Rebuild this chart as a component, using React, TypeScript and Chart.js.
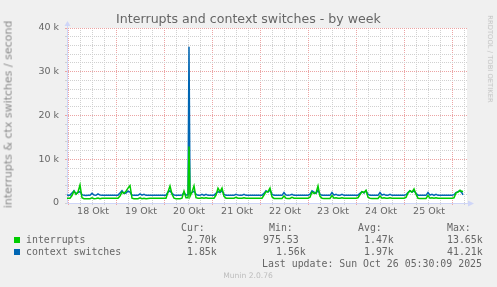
import React, { useEffect, useRef } from 'react';
import { Chart, registerables } from 'chart.js';

Chart.register(...registerables);

// Hours since 18 Okt 00:00
const hours = [
  -0.5,
  0, 1, 2, 3, 4, 5, 6, 7, 8, 9, 10, 11, 12, 13, 14, 15, 16, 17, 18, 19, 20, 21, 22, 23,
  24, 25, 26, 27, 28, 29, 30, 31, 32, 33, 34, 35, 36, 37, 38, 39, 40, 41, 42, 43, 44, 45, 46, 47,
  48, 49, 50, 51, 52, 53, 54, 55, 56, 57, 58, 59, 60, 60.5, 61, 62, 63, 64, 65, 66, 67, 68, 69, 70, 71,
  72, 73, 74, 75, 76, 77, 78, 79, 80, 81, 82, 83, 84, 85, 86, 87, 88, 89, 90, 91, 92, 93, 94, 95,
  96, 97, 98, 99, 100, 101, 102, 103, 104, 105, 106, 107, 108, 109, 110, 111, 112, 113, 114, 115, 116, 117, 118, 119,
  120, 121, 122, 123, 124, 125, 126, 127, 128, 129, 130, 131, 132, 133, 134, 135, 136, 137, 138, 139, 140, 141, 142, 143,
  144, 145, 146, 147, 148, 149, 150, 151, 152, 153, 154, 155, 156, 157, 158, 159, 160, 161, 162, 163, 164, 165, 166, 167,
  168, 169, 170, 171, 172, 173, 174, 175, 176, 177, 178, 179, 180, 181, 182, 183, 184, 185, 186, 187, 188, 189, 190, 191,
  192, 193, 194, 195, 196, 197, 197.5,
];

const interrupts = [
  1100,
  1100, 1100, 1700, 2700, 2000, 2500, 4100, 1200, 1000, 1000, 1000, 1000, 1200, 1000, 1050, 1150, 1000, 1100, 1100, 1100, 1100, 1100, 1100, 1100,
  1100, 1100, 1600, 2500, 2200, 2700, 3400, 4000, 1100, 1000, 1000, 1000, 1200, 1000, 1100, 1000, 1050, 1100, 1100, 1100, 1100, 1100, 1100, 1100,
  1100, 1100, 2500, 3900, 2000, 1100, 1000, 1000, 1000, 1100, 2700, 1200, 1200, 12900, 1500, 2500, 3900, 1200, 1100, 1100, 1200, 1100, 1200, 1100, 1100,
  1100, 1100, 1800, 3400, 2600, 3400, 1500, 1100, 1100, 1100, 1100, 1100, 1300, 1100, 1100, 1100, 1200, 1100, 1100, 1100, 1100, 1100, 1100, 1100,
  1100, 1100, 1800, 2600, 2600, 3400, 1400, 1050, 1050, 1050, 1050, 1050, 1600, 1100, 1050, 1050, 1300, 1100, 1100, 1100, 1100, 1100, 1100, 1100,
  1100, 1300, 2500, 2200, 2300, 3900, 1500, 1100, 1050, 1050, 1050, 1050, 1700, 1100, 1200, 1100, 1100, 1200, 1100, 1100, 1100, 1100, 1100, 1100,
  1100, 1200, 1900, 2600, 2400, 2900, 1300, 1100, 1050, 1050, 1050, 1050, 1600, 1100, 1200, 1100, 1100, 1200, 1100, 1100, 1100, 1100, 1100, 1100,
  1100, 1300, 2300, 2800, 2500, 3200, 2000, 1100, 1050, 1050, 1050, 1050, 1700, 1100, 1200, 1100, 1200, 1100, 1100, 1100, 1100, 1100, 1100, 1100,
  1100, 1200, 2300, 2500, 2900, 2600, 2700,
];

const contextSwitches = [
  1850,
  1800, 1800, 2300, 2800, 2100, 2400, 2600, 1900, 1750, 1700, 1750, 1750, 2200, 1800, 1750, 2100, 1800, 1750, 1750, 1750, 1750, 1750, 1750, 1800,
  1800, 1800, 2300, 2800, 2200, 2300, 2700, 2500, 1800, 1750, 1750, 1750, 2100, 1800, 2000, 1750, 1750, 1750, 1750, 1750, 1750, 1750, 1750, 1800,
  1800, 1800, 2500, 2800, 2200, 1800, 1750, 1750, 1750, 1800, 2400, 1800, 1900, 35700, 2200, 2400, 2700, 2000, 1750, 1750, 2000, 1750, 2000, 1750, 1800,
  1800, 1800, 2200, 2600, 2400, 2800, 2000, 1750, 1750, 1750, 1750, 1750, 2000, 1800, 1750, 1750, 2000, 1750, 1750, 1750, 1750, 1750, 1750, 1800,
  1800, 1800, 2200, 2800, 2500, 3000, 2000, 1750, 1750, 1750, 1750, 1750, 2400, 1800, 1750, 1800, 2000, 1750, 1750, 1750, 1750, 1750, 1750, 1800,
  1800, 2000, 2800, 2500, 2200, 2900, 2000, 1750, 1750, 1750, 1750, 1750, 2400, 1800, 2000, 1750, 1750, 2000, 1750, 1750, 1750, 1750, 1750, 1800,
  1800, 1800, 2200, 2600, 2300, 2800, 2000, 1750, 1750, 1750, 1750, 1750, 2400, 1800, 2000, 1750, 1750, 2000, 1750, 1750, 1750, 1750, 1750, 1800,
  1800, 1900, 2400, 2800, 2500, 2800, 2200, 1750, 1750, 1750, 1750, 1750, 2400, 1800, 2000, 1750, 2000, 1750, 1750, 1750, 1750, 1750, 1750, 1800,
  1800, 1900, 2400, 2600, 2800, 2300, 1850,
];

const dayTickHours = [12, 36, 60, 84, 108, 132, 156, 180];
const dayLabels = ['18 Okt', '19 Okt', '20 Okt', '21 Okt', '22 Okt', '23 Okt', '24 Okt', '25 Okt'];
const yLabelValues = [0, 10000, 20000, 30000, 40000];
const yLabels = ['0', '10 k', '20 k', '30 k', '40 k'];

const seriesNames = ['interrupts', 'context switches'];
const seriesColors = ['#00cc00', '#0066b3'];
const curValues = ['2.70k', '1.85k'];
const minValues = ['975.53', '1.56k'];
const avgValues = ['1.47k', '1.97k'];
const maxValues = ['13.65k', '41.21k'];

const titleText = 'Interrupts and context switches - by week';
const yTitleText = 'interrupts & ctx switches / second';
const lastUpdateText = 'Last update: Sun Oct 26 05:30:09 2025';
const watermarkText = 'RRDTOOL / TOBI OETIKER';
const footerText = 'Munin 2.0.76';

const GRID = '#d0d0d0';
const MGRID = '#eca4a4';
const AXIS = '#CFD6F8';
const FONT = '#666666';

const canvasBg = {
  id: 'canvasBg',
  beforeDraw(chart: any) {
    const { ctx, chartArea: a } = chart;
    ctx.save();
    ctx.fillStyle = '#ffffff';
    ctx.fillRect(a.left, a.top, a.right - a.left, a.bottom - a.top);
    ctx.restore();
  },
};

const arrows = {
  id: 'arrows',
  afterDraw(chart: any) {
    const { ctx, chartArea: a } = chart;
    ctx.save();
    ctx.fillStyle = AXIS;
    ctx.strokeStyle = AXIS;
    ctx.lineWidth = 1;
    const lx = Math.round(a.left) + 0.5;
    ctx.beginPath();
    ctx.moveTo(lx, a.top);
    ctx.lineTo(lx, a.top - 3);
    ctx.stroke();
    ctx.beginPath();
    ctx.moveTo(lx - 3, a.top - 2);
    ctx.lineTo(lx + 3, a.top - 2);
    ctx.lineTo(lx, a.top - 7);
    ctx.closePath();
    ctx.fill();
    const by = Math.round(a.bottom) + 0.5;
    ctx.beginPath();
    ctx.moveTo(a.right, by);
    ctx.lineTo(a.right + 3, by);
    ctx.stroke();
    ctx.beginPath();
    ctx.moveTo(a.right + 1, by - 3);
    ctx.lineTo(a.right + 1, by + 3);
    ctx.lineTo(a.right + 7, by);
    ctx.closePath();
    ctx.fill();
    ctx.restore();
  },
};

function Txt(props: {
  x: number; baseline: number; size: number; family: string; color: string;
  children: React.ReactNode; align?: 'left' | 'center'; width?: number;
}) {
  const { x, baseline, size, family, color, children, align = 'left', width } = props;
  return (
    <div
      style={{
        position: 'absolute',
        left: x,
        top: baseline - 0.928 * size,
        width: width,
        fontSize: size,
        lineHeight: 1.164,
        fontFamily: family,
        color,
        whiteSpace: 'pre',
        textAlign: align,
      }}
    >
      {children}
    </div>
  );
}

export default function App() {
  const ref = useRef<HTMLCanvasElement>(null);

  useEffect(() => {
    const canvas = ref.current!;
    const chart = new Chart(canvas, {
      type: 'line',
      data: {
        datasets: [
          {
            label: seriesNames[0],
            data: hours.map((h, i) => ({ x: h, y: interrupts[i] })),
            borderColor: seriesColors[0],
            backgroundColor: seriesColors[0],
            borderWidth: 1.5,
            pointRadius: 0,
            tension: 0,
            order: 1,
          },
          {
            label: seriesNames[1],
            data: hours.map((h, i) => ({ x: h, y: contextSwitches[i] })),
            borderColor: seriesColors[1],
            backgroundColor: seriesColors[1],
            borderWidth: 1.5,
            pointRadius: 0,
            tension: 0,
            order: 2,
          },
        ],
      },
      options: {
        animation: false,
        responsive: false,
        devicePixelRatio: 1,
        layout: { padding: { left: 0, top: 28, right: 30, bottom: 64 } },
        plugins: { legend: { display: false }, tooltip: { enabled: false }, title: { display: false } },
        scales: {
          x: {
            type: 'linear',
            min: -0.5,
            max: 199.5,
            afterBuildTicks: (scale: any) => {
              const t = [];
              for (let v = 0; v <= 198; v += 6) t.push({ value: v });
              scale.ticks = t;
            },
            afterFit: (scale: any) => { scale.height = 20; },
            ticks: {
              autoSkip: false,
              maxRotation: 0,
              minRotation: 0,
              padding: 1,
              labelOffset: 1,
              color: FONT,
              font: { family: 'DejaVu Sans', size: 9.5 },
              callback: (value: any) => {
                const i = dayTickHours.indexOf(Number(value));
                return i >= 0 ? dayLabels[i] : '';
              },
            },
            grid: {
              color: (c: any) => (c.tick && c.tick.value % 24 === 0 ? MGRID : GRID),
              tickColor: (c: any) => (c.tick && c.tick.value % 24 === 0 ? MGRID : GRID),
              lineWidth: 1,
              tickLength: 2,
              drawTicks: true,
            },
            border: { display: true, color: AXIS, width: 1, dash: [1, 1] },
          },
          y: {
            type: 'linear',
            min: 0,
            max: 40000,
            afterFit: (scale: any) => { scale.width = 67; },
            ticks: {
              stepSize: 2000,
              autoSkip: false,
              padding: 6,
              color: FONT,
              font: { family: 'DejaVu Sans', size: 9.5 },
              callback: (value: any) => {
                const i = yLabelValues.indexOf(Number(value));
                return i >= 0 ? yLabels[i] : '';
              },
            },
            grid: {
              color: (c: any) => (c.tick && c.tick.value % 10000 === 0 && c.tick.value !== 0 ? MGRID : GRID),
              tickColor: (c: any) => (c.tick && c.tick.value % 10000 === 0 && c.tick.value !== 0 ? MGRID : GRID),
              lineWidth: 1,
              tickLength: 2,
              drawTicks: true,
            },
            border: { display: true, color: AXIS, width: 1, dash: [1, 1] },
          },
        },
      },
      plugins: [canvasBg, arrows],
    } as any);
    return () => chart.destroy();
  }, []);

  const mono = '"DejaVu Sans Mono", monospace';
  const sans = '"DejaVu Sans", sans-serif';
  const lf = 9.9;

  return (
    <div
      style={{
        position: 'absolute',
        left: 0,
        top: 0,
        width: 497,
        height: 287,
        background: '#f0f0f0',
        overflow: 'hidden',
      }}
    >
      <canvas ref={ref} width={497} height={287} style={{ position: 'absolute', left: 0, top: 0, width: 497, height: 287 }} />
      <Txt x={0} width={497} align="center" baseline={24} size={12.6} family={sans} color={FONT}>{titleText}</Txt>
      <div
        style={{
          position: 'absolute',
          left: 9.2 - 120,
          top: 114 - (11 * 1.164) / 2,
          width: 240,
          fontSize: 11,
          lineHeight: 1.164,
          fontFamily: sans,
          color: '#8a8a8a',
          textAlign: 'center',
          whiteSpace: 'pre',
          transform: 'rotate(-90deg)',
        }}
      >
        {yTitleText}
      </div>
      <div
        style={{
          position: 'absolute',
          left: 489.3 - 60,
          top: 58.5 - (6.8 * 1.164) / 2,
          width: 120,
          fontSize: 6.8,
          lineHeight: 1.164,
          fontFamily: sans,
          color: '#c4c4c4',
          textAlign: 'center',
          whiteSpace: 'pre',
          transform: 'rotate(90deg)',
        }}
      >
        {watermarkText}
      </div>

      <Txt x={181} baseline={231.5} size={lf} family={mono} color={FONT}>Cur:</Txt>
      <Txt x={269} baseline={231.5} size={lf} family={mono} color={FONT}>Min:</Txt>
      <Txt x={358} baseline={231.5} size={lf} family={mono} color={FONT}>Avg:</Txt>
      <Txt x={447} baseline={231.5} size={lf} family={mono} color={FONT}>Max:</Txt>

      {seriesNames.map((name, i) => {
        const bl = 243.3 + i * 11.8;
        return (
          <React.Fragment key={name}>
            <div style={{ position: 'absolute', left: 14, top: 237 + i * 12, width: 6, height: 6, background: seriesColors[i] }} />
            <Txt x={26} baseline={bl} size={lf} family={mono} color={FONT}>{name}</Txt>
            <Txt x={187} baseline={bl} size={lf} family={mono} color={FONT}>{curValues[i]}</Txt>
            <Txt x={i === 0 ? 263 : 276} baseline={bl} size={lf} family={mono} color={FONT}>{minValues[i]}</Txt>
            <Txt x={364} baseline={bl} size={lf} family={mono} color={FONT}>{avgValues[i]}</Txt>
            <Txt x={447} baseline={bl} size={lf} family={mono} color={FONT}>{maxValues[i]}</Txt>
          </React.Fragment>
        );
      })}

      <Txt x={262} baseline={267.2} size={lf} family={mono} color={FONT}>{lastUpdateText}</Txt>
      <Txt x={0} width={496} align="center" baseline={279} size={7.6} family={sans} color="#bdbdbd">{footerText}</Txt>
    </div>
  );
}
